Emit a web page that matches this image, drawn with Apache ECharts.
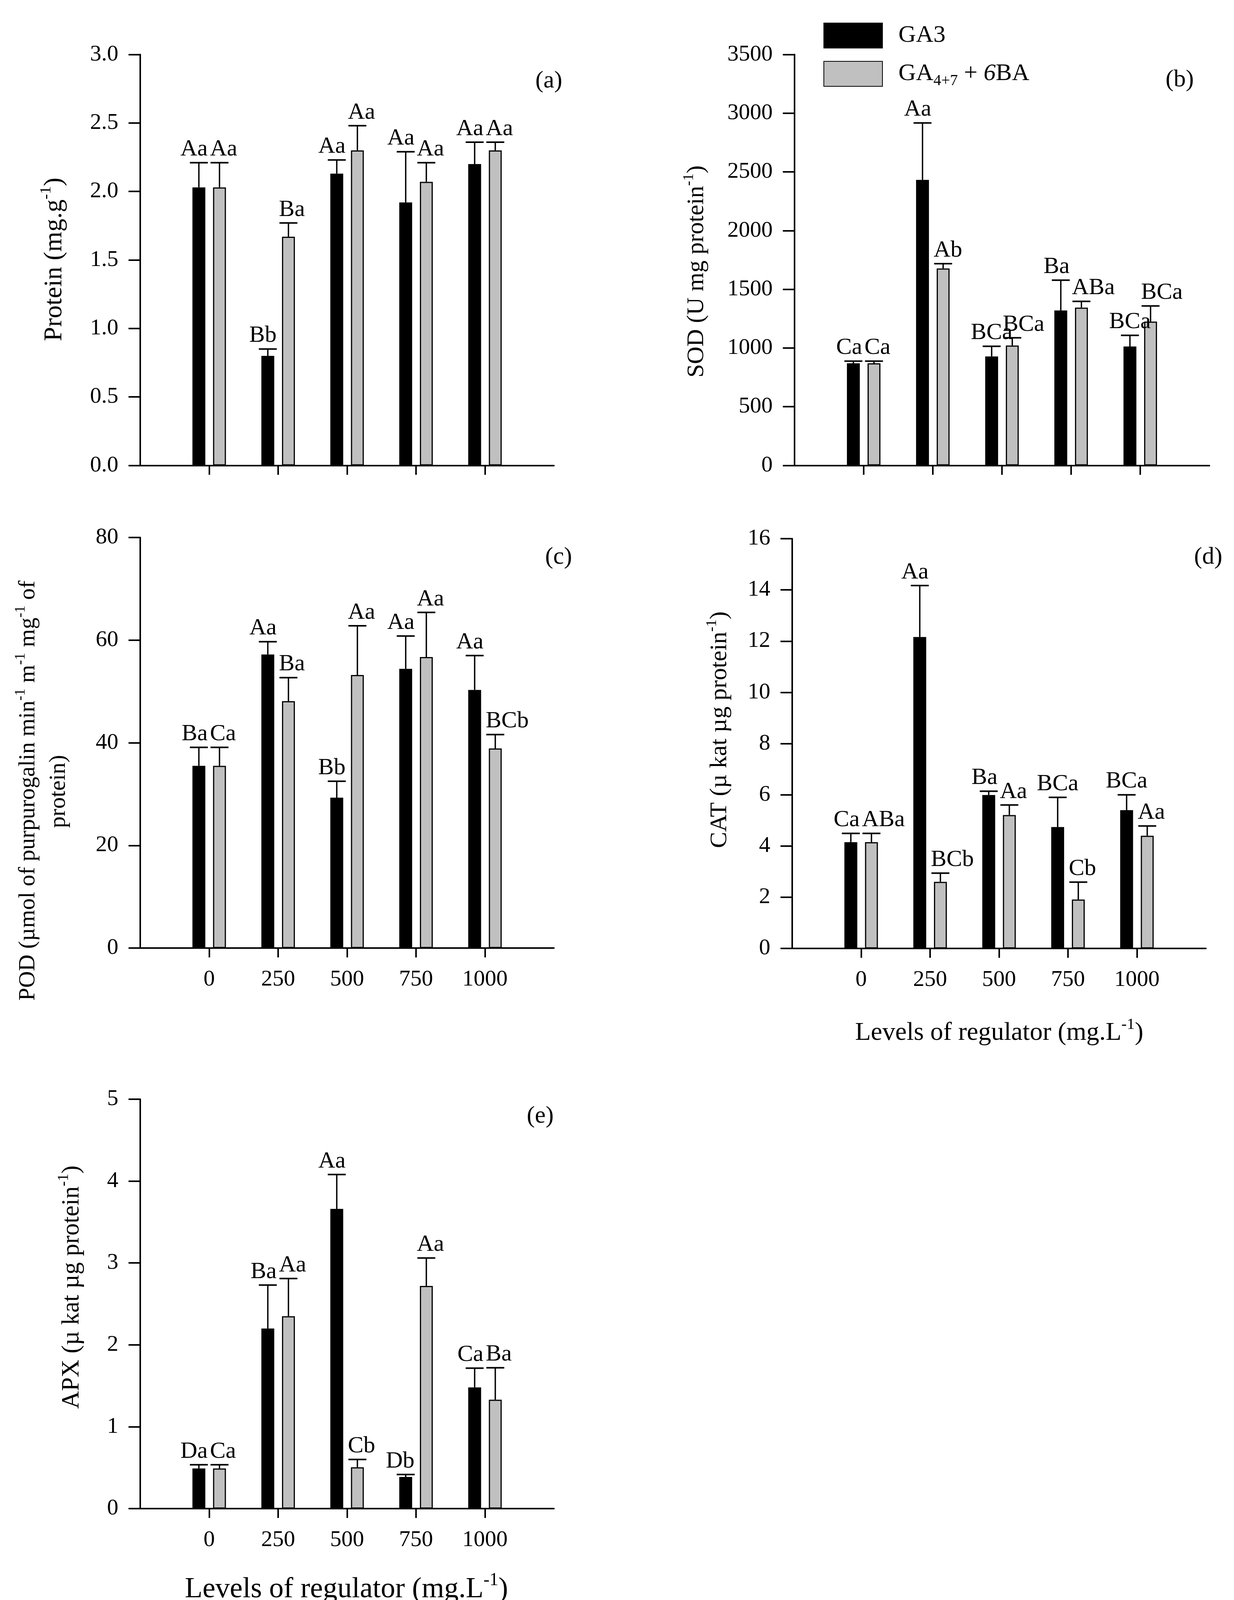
<!DOCTYPE html>
<html>
<head>
<meta charset="utf-8">
<style>
  html, body { margin: 0; padding: 0; background: #fff; }
  #main { width: 3159px; height: 4148px; }
</style>
</head>
<body>
<div id="main"></div>
<script src="https://cdn.jsdelivr.net/npm/echarts@6/dist/echarts.min.js"></script>
<script type="text/javascript">
    // x categories (blank ends give the empty space at both sides of the axis)
    var categories = ['', '0', '250', '500', '750', '1000', ''];

    // (a) protein
    var proteinGA3 = [2.03, 0.80, 2.13, 1.92, 2.20];
    var proteinGA3Sd = [0.18, 0.05, 0.10, 0.37, 0.16];
    var proteinMix = [2.03, 1.67, 2.30, 2.07, 2.30];
    var proteinMixSd = [0.18, 0.10, 0.18, 0.14, 0.06];
    var proteinGA3Letters = ['Aa', 'Bb', 'Aa', 'Aa', 'Aa'];
    var proteinMixLetters = ['Aa', 'Ba', 'Aa', 'Aa', 'Aa'];

    // (b) SOD
    var sodGA3 = [870, 2432, 928, 1320, 1013];
    var sodGA3Sd = [18, 485, 87, 258, 95];
    var sodMix = [870, 1678, 1021, 1344, 1225];
    var sodMixSd = [18, 40, 66, 53, 133];
    var sodGA3Letters = ['Ca', 'Aa', 'BCa', 'Ba', 'BCa'];
    var sodMixLetters = ['Ca', 'Ab', 'BCa', 'ABa', 'BCa'];

    // (c) POD
    var podGA3 = [35.5, 57.2, 29.3, 54.4, 50.3];
    var podGA3Sd = [3.6, 2.5, 3.2, 6.4, 6.7];
    var podMix = [35.5, 48.1, 53.2, 56.7, 38.9];
    var podMixSd = [3.6, 4.6, 9.6, 8.7, 2.7];
    var podGA3Letters = ['Ba', 'Aa', 'Bb', 'Aa', 'Aa'];
    var podMixLetters = ['Ca', 'Ba', 'Aa', 'Aa', 'BCb'];

    // (d) CAT
    var catGA3 = [4.15, 12.16, 5.99, 4.74, 5.40];
    var catGA3Sd = [0.34, 2.01, 0.15, 1.16, 0.60];
    var catMix = [4.15, 2.60, 5.21, 1.91, 4.40];
    var catMixSd = [0.34, 0.34, 0.39, 0.68, 0.38];
    var catGA3Letters = ['Ca', 'Aa', 'Ba', 'BCa', 'BCa'];
    var catMixLetters = ['ABa', 'BCb', 'Aa', 'Cb', 'Aa'];

    // (e) APX
    var apxGA3 = [0.49, 2.20, 3.66, 0.386, 1.48];
    var apxGA3Sd = [0.045, 0.53, 0.42, 0.03, 0.235];
    var apxMix = [0.49, 2.35, 0.505, 2.72, 1.33];
    var apxMixSd = [0.045, 0.46, 0.095, 0.34, 0.39];
    var apxGA3Letters = ['Da', 'Ba', 'Aa', 'Db', 'Ca'];
    var apxMixLetters = ['Ca', 'Aa', 'Cb', 'Aa', 'Ba'];

    var seriesNames = ['GA3', 'GA4+7 + 6BA'];

    var FONT = '"Liberation Serif", "Times New Roman", serif';
    var BAR_W = 33;
    var BAR_GAP = 0.6;
    var GREY = '#c0c0c0';

    var panels = [
        {tag: '(a)', grid: {left: 359, top: 139.5, width: 1059, height: 1052}, max: 3, interval: 0.5, digits: 1, xLabels: false,
         data: [proteinGA3, proteinMix], sd: [proteinGA3Sd, proteinMixSd], letters: [proteinGA3Letters, proteinMixLetters]},
        {tag: '(b)', grid: {left: 2034, top: 139.5, width: 1062, height: 1052}, max: 3500, interval: 500, digits: 0, xLabels: false,
         data: [sodGA3, sodMix], sd: [sodGA3Sd, sodMixSd], letters: [sodGA3Letters, sodMixLetters]},
        {tag: '(c)', grid: {left: 359, top: 1376, width: 1059, height: 1051}, max: 80, interval: 20, digits: 0, xLabels: true,
         data: [podGA3, podMix], sd: [podGA3Sd, podMixSd], letters: [podGA3Letters, podMixLetters]},
        {tag: '(d)', grid: {left: 2028, top: 1379, width: 1059, height: 1049}, max: 16, interval: 2, digits: 0, xLabels: true,
         data: [catGA3, catMix], sd: [catGA3Sd, catMixSd], letters: [catGA3Letters, catMixLetters]},
        {tag: '(e)', grid: {left: 359, top: 2814, width: 1059, height: 1048}, max: 5, interval: 1, digits: 0, xLabels: true,
         data: [apxGA3, apxMix], sd: [apxGA3Sd, apxMixSd], letters: [apxGA3Letters, apxMixLetters]}
    ];

    function pad(arr) {
        return ['-'].concat(arr, ['-']);
    }

    // error bar + significance letters drawn on top of a bar
    // short GA3 letters end at the right edge of the bar, long ones are centred;
    // GA4+7 letters start at the left edge of the bar
    function errorRenderer(panel, s) {
        var shift = (s === 0 ? -1 : 1) * (BAR_W + BAR_W * BAR_GAP) / 2;
        return function (params, api) {
            var i = params.dataIndex;
            var txt = panel.letters[s][i];
            var base = api.coord([api.value(0), api.value(1)]);
            var top = api.coord([api.value(0), api.value(2)]);
            var x = base[0] + shift;
            var tx, al;
            if (s === 1) { tx = x - BAR_W / 2 - 8; al = 'left'; }
            else if (txt.length > 2) { tx = x; al = 'center'; }
            else { tx = x + BAR_W / 2 + 6; al = 'right'; }
            return {
                type: 'group',
                children: [
                    {type: 'line', shape: {x1: x, y1: base[1], x2: x, y2: top[1]},
                     style: {stroke: '#000', lineWidth: 3.5}},
                    {type: 'line', shape: {x1: x - 23, y1: top[1], x2: x + 23, y2: top[1]},
                     style: {stroke: '#000', lineWidth: 4}},
                    {type: 'text', x: tx, y: top[1] - 4,
                     style: {text: txt, fontSize: 60, fontFamily: FONT, fill: '#000',
                             align: al, verticalAlign: 'bottom', textAlign: al, textVerticalAlign: 'bottom'}}
                ]
            };
        };
    }

    var grids = [], xAxes = [], yAxes = [], series = [];
    panels.forEach(function (p, k) {
        grids.push({left: p.grid.left, top: p.grid.top, width: p.grid.width, height: p.grid.height,
                    containLabel: false, outerBoundsMode: 'none'});
        xAxes.push({
            type: 'category', gridIndex: k, data: categories, boundaryGap: false,
            axisLine: {lineStyle: {color: '#000', width: 4}},
            axisTick: {length: 24, lineStyle: {color: '#000', width: 4},
                       interval: function (idx, val) { return val !== ''; }},
            axisLabel: {show: p.xLabels, interval: 0, margin: 52, color: '#000', fontSize: 58, fontFamily: FONT},
            splitLine: {show: false}
        });
        yAxes.push({
            type: 'value', gridIndex: k, min: 0, max: p.max, interval: p.interval,
            axisLine: {show: true, lineStyle: {color: '#000', width: 4}},
            axisTick: {show: true, length: 30, lineStyle: {color: '#000', width: 4}},
            axisLabel: {margin: 56, color: '#000', fontSize: 58, fontFamily: FONT,
                        formatter: (function (d) { return function (v) { return v.toFixed(d); }; })(p.digits)},
            splitLine: {show: false}
        });
        for (var s = 0; s < 2; s++) {
            series.push({
                name: seriesNames[s], type: 'bar', xAxisIndex: k, yAxisIndex: k,
                data: pad(p.data[s]), barWidth: BAR_W, barGap: (BAR_GAP * 100) + '%',
                itemStyle: {color: s === 0 ? '#000' : GREY, borderColor: '#000', borderWidth: 3},
                silent: true, z: 2
            });
        }
        for (var t = 0; t < 2; t++) {
            var errData = p.data[t].map(function (v, i) {
                return [i + 1, v, v + p.sd[t][i]];
            });
            series.push({
                type: 'custom', xAxisIndex: k, yAxisIndex: k, data: errData,
                renderItem: errorRenderer(p, t), clip: false, silent: true, z: 3
            });
        }
    });

    function titleText(x, y, text, size, rotate) {
        return {
            type: 'text', x: x, y: y, rotation: rotate ? Math.PI / 2 : 0, silent: true,
            style: {text: text, fontSize: size, fontFamily: FONT, fill: '#000',
                    align: 'center', verticalAlign: 'middle', textAlign: 'center', textVerticalAlign: 'middle',
                    rich: {sup: {fontSize: Math.round(size * 0.62), fontFamily: FONT, fill: '#000', color: '#000',
                                 padding: [0, 0, Math.round(size * 0.65), 0]}}}
        };
    }

    var graphics = [
        titleText(140, 664, 'Protein (mg.g{sup|-1})', 66, true),
        titleText(1784, 695, 'SOD (U mg protein{sup|-1})', 62, true),
        titleText(72, 2024, 'POD (µmol of purpurogalin min{sup|-1} m{sup|-1} mg{sup|-1} of', 59, true),
        titleText(150, 2026, 'protein)', 59, true),
        titleText(1843, 1868, 'CAT (µ kat µg protein{sup|-1})', 62, true),
        titleText(184, 3295, 'APX (µ kat µg protein{sup|-1})', 63, true),
        titleText(2558, 2645, 'Levels of regulator (mg.L{sup|-1})', 66, false),
        titleText(887, 4070, 'Levels of regulator (mg.L{sup|-1})', 74, false),
        titleText(1405, 208, '(a)', 62, false),
        titleText(3020, 205, '(b)', 62, false),
        titleText(1430, 1427, '(c)', 62, false),
        titleText(3093, 1427, '(d)', 62, false),
        titleText(1383, 2858, '(e)', 62, false)
    ];

    var myChart = echarts.init(document.getElementById('main'));
    var option = {
        backgroundColor: '#fff',
        animation: false,
        legend: {
            data: seriesNames, orient: 'vertical', left: 2108, top: 58, padding: 0,
            itemWidth: 150, itemHeight: 64, itemGap: 32, icon: 'rect', selectedMode: false,
            formatter: function (name) {
                if (name === 'GA3') return '{n|GA3}';
                return '{n|GA}{sub|4+7}{n| + }{it|6}{n|BA}';
            },
            textStyle: {
                color: '#000', fontSize: 62, fontFamily: FONT, padding: [0, 0, 0, 36],
                rich: {
                    n: {fontSize: 62, fontFamily: FONT, color: '#000'},
                    it: {fontSize: 62, fontFamily: FONT, color: '#000', fontStyle: 'italic'},
                    sub: {fontSize: 40, fontFamily: FONT, color: '#000', padding: [36, 0, 0, 0]}
                }
            }
        },
        grid: grids,
        xAxis: xAxes,
        yAxis: yAxes,
        series: series,
        graphic: graphics
    };
    myChart.setOption(option);
</script>
</body>
</html>
